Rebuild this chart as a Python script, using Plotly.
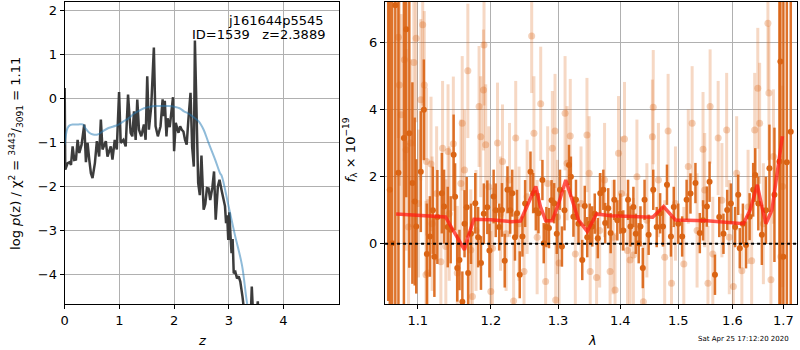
import plotly.graph_objects as go

# ---------------- Left panel: log p(z) ----------------
pz_z = [0.000, 0.010, 0.055, 0.090, 0.115, 0.145, 0.175, 0.206, 0.236, 0.267, 0.309, 0.358,
        0.388, 0.418, 0.450, 0.479, 0.509, 0.552, 0.588, 0.630, 0.661, 0.691, 0.752, 0.782,
        0.842, 0.873, 0.915, 0.952, 0.994, 1.024, 1.073, 1.115, 1.158, 1.206, 1.236, 1.267,
        1.297, 1.327, 1.358, 1.400, 1.448, 1.479, 1.509, 1.539, 1.582, 1.630, 1.661, 1.703,
        1.752, 1.790, 1.812, 1.830, 1.860, 1.880, 1.920, 1.980, 2.000, 2.030, 2.080, 2.110,
        2.140, 2.170, 2.200, 2.230, 2.260, 2.300, 2.330, 2.360, 2.380, 2.410, 2.440, 2.470,
        2.500, 2.540, 2.570, 2.600, 2.630, 2.660, 2.700, 2.730, 2.760, 2.800, 2.830, 2.870,
        2.900, 2.930, 2.950, 2.970, 2.990, 3.010, 3.030, 3.050, 3.070, 3.090, 3.120, 3.150,
        3.180, 3.210, 3.250, 3.290, 3.340, 3.400, 3.420, 3.450, 3.500, 3.530, 3.560, 3.620]
pz_log = [0.24, -1.62, -1.47, -1.45, -1.51, -1.09, -1.40, -1.39, -0.94, -1.24, -1.05, -0.59,
          -1.45, -1.01, -1.40, -1.70, -1.81, -1.47, -0.97, -1.32, -0.48, -1.16, -0.97, -1.32,
          -1.09, -1.39, -0.94, -1.16, 0.15, -1.01, -0.94, -1.09, 0.09, -0.78, -0.86, -0.29,
          -0.94, -0.02, -0.71, -0.86, -0.59, -0.94, 0.51, -0.71, -0.18, 1.16, -0.63, -0.86,
          -0.63, -0.02, -0.40, -0.05, -0.86, -0.45, -0.65, 0.03, -1.20, -0.55, -0.78, -0.63,
          -0.71, -0.75, -0.94, -1.05, -0.50, 0.13, -1.10, -1.55, 1.32, -0.70, -1.92, -2.20,
          -1.30, -2.53, -2.40, -2.04, -2.05, -2.31, -2.02, -1.66, -2.76, -2.00, -1.85, -2.10,
          -2.30, -2.45, -2.84, -2.66, -3.22, -2.59, -3.10, -3.52, -3.20, -3.98, -3.95, -4.10,
          -4.05, -4.17, -4.51, -4.95, -5.20, -5.00, -4.28, -5.10, -5.00, -4.62, -5.30, -5.80]

prior_z = [0.00, 0.02, 0.05, 0.09, 0.15, 0.25, 0.33, 0.38, 0.45, 0.52, 0.60, 0.69, 0.80, 0.93,
           1.00, 1.10, 1.18, 1.27, 1.36, 1.45, 1.54, 1.66, 1.78, 1.90, 2.02, 2.10, 2.18, 2.26,
           2.33, 2.45, 2.54, 2.63, 2.75, 2.84, 2.87, 2.99, 3.11, 3.24, 3.33, 3.40]
prior_log = [-1.05, -0.85, -0.68, -0.61, -0.59, -0.59, -0.59, -0.68, -0.78, -0.82, -0.82, -0.75,
             -0.67, -0.62, -0.58, -0.50, -0.44, -0.34, -0.28, -0.22, -0.19, -0.17, -0.17, -0.17,
             -0.19, -0.22, -0.29, -0.34, -0.40, -0.52, -0.71, -1.01, -1.39, -1.70, -1.76, -2.42,
             -3.10, -3.79, -4.63, -5.10]

left_xticks = [0, 1, 2, 3, 4]
left_yticks = [-4, -3, -2, -1, 0, 1, 2]

# ---------------- Right panel: spectrum ----------------
dark_wave = [1.062, 1.064, 1.067, 1.071, 1.075, 1.085, 1.082, 1.089, 1.093, 1.096, 1.098, 1.104,
             1.108, 1.112, 1.116, 1.120, 1.122, 1.126, 1.132, 1.135, 1.140, 1.144, 1.148, 1.150,
             1.153, 1.156, 1.160, 1.163, 1.166, 1.168, 1.172, 1.178, 1.182, 1.186, 1.190, 1.195,
             1.198, 1.204, 1.207, 1.212, 1.216, 1.220, 1.224, 1.228, 1.231, 1.235, 1.238, 1.242,
             1.246, 1.250, 1.258, 1.262, 1.266, 1.270, 1.276, 1.278, 1.282, 1.286, 1.290, 1.294,
             1.298, 1.303, 1.306, 1.310, 1.317, 1.320, 1.324, 1.328, 1.332, 1.338, 1.342, 1.346,
             1.350, 1.354, 1.358, 1.363, 1.367, 1.372, 1.375, 1.380, 1.384, 1.390, 1.395, 1.400,
             1.405, 1.413, 1.417, 1.422, 1.426, 1.431, 1.434, 1.438, 1.441, 1.448, 1.456, 1.462,
             1.468, 1.473, 1.480, 1.487, 1.492, 1.500, 1.507, 1.515, 1.522, 1.531, 1.539, 1.545,
             1.552, 1.557, 1.567, 1.575, 1.583, 1.590, 1.597, 1.605, 1.611, 1.614, 1.620, 1.626,
             1.633, 1.640, 1.644, 1.650, 1.657, 1.665, 1.672, 1.682, 1.692, 1.694, 1.700, 1.707,
             1.715]
dark_flux = [7.30, 1.61, 0.02, 7.10, 2.12, 6.39, 3.15, 3.29, 1.81, 1.26, 0.52, 2.15,
             3.99, -0.30, 0.22, 1.00, -0.38, 0.80, 1.51, 1.11, 0.50, 0.42, 2.65, 1.40,
             -0.72, -0.48, -1.72, 0.60, 1.09, -0.87, 0.30, 1.21, 0.20, -0.57, 0.90, 1.09,
             -0.20, 1.41, 1.00, 0.50, 1.01, -0.50, 1.61, 1.00, 1.51, 0.20, 0.91, -0.92,
             0.22, 1.20, 2.15, 1.51, 1.00, 0.91, 1.90, 0.02, 0.50, 0.47, 1.30, 1.21,
             0.30, 1.61, -0.08, 1.00, 2.35, 2.00, 0.81, 1.31, 0.60, -0.48, 1.13, 0.20,
             0.60, 0.52, 0.90, 0.17, 1.51, 1.61, 0.62, 1.06, 0.32, 1.31, 0.70, 0.90,
             0.40, 1.31, 0.52, 1.10, 0.30, 0.02, 0.52, -0.72, 1.31, 0.27, 1.61, 0.50,
             0.91, 0.52, 1.76, 0.22, 1.10, 0.60, 0.22, 1.31, 1.50, 1.81, 0.32, 0.70,
             1.11, 1.85, -0.92, 0.80, 0.30, 1.01, 1.20, 0.50, 1.46, -0.13, 0.60, -0.03,
             0.81, 1.61, 2.05, 1.20, 0.27, 1.00, 2.25, 1.46, 2.45, 5.43, -0.38, 2.43,
             3.34]
dark_err = [9.0, 9.0, 9.0, 9.0, 9.0, 5.0, 5.0, 4.0, 3.0, 2.5, 2.0, 1.8,
            1.5, 1.5, 1.2, 1.3, 1.2, 1.4, 1.2, 1.1, 1.2, 1.0, 1.2, 1.0,
            1.0, 0.9, 0.9, 1.0, 0.9, 1.0, 0.9, 0.9, 0.9, 0.8, 0.9, 0.8,
            0.8, 0.8, 0.8, 0.7, 0.8, 0.8, 0.7, 0.7, 0.7, 0.7, 0.7, 0.7,
            0.6, 0.7, 0.6, 0.6, 0.6, 0.6, 0.6, 0.6, 0.6, 0.6, 0.6, 0.6,
            0.6, 0.6, 0.6, 0.6, 0.6, 0.6, 0.6, 0.6, 0.6, 0.6, 0.6, 0.6,
            0.6, 0.6, 0.6, 0.6, 0.6, 0.6, 0.6, 0.6, 0.6, 0.6, 0.6, 0.6,
            0.6, 0.6, 0.6, 0.6, 0.6, 0.6, 0.6, 0.6, 0.6, 0.6, 0.6, 0.6,
            0.6, 0.6, 0.6, 0.6, 0.6, 0.6, 0.6, 0.6, 0.6, 0.6, 0.6, 0.6,
            0.6, 0.6, 0.6, 0.6, 0.6, 0.6, 0.6, 0.6, 0.6, 0.6, 0.6, 0.7,
            0.7, 0.8, 0.8, 0.8, 0.9, 1.0, 1.3, 2.0, 9.0, 9.0, 9.0, 9.0,
            9.0]

light_wave = [1.0749, 1.0762, 1.0784, 1.0826, 1.0848, 1.088, 1.0904, 1.0949, 1.0979, 1.101,
              1.1040, 1.1065, 1.1086, 1.1108, 1.1115, 1.113, 1.1175, 1.119, 1.125, 1.1307,
              1.1330, 1.1374, 1.1404, 1.142, 1.1476, 1.153, 1.158, 1.1598, 1.163, 1.1676,
              1.1717, 1.1740, 1.179, 1.1833, 1.1856, 1.1895, 1.1903, 1.1927, 1.197, 1.2000,
              1.2024, 1.2096, 1.214, 1.2168, 1.222, 1.227, 1.233, 1.2361, 1.241, 1.2484,
              1.253, 1.2598, 1.2632, 1.268, 1.2734, 1.2809, 1.284, 1.2912, 1.2953, 1.2963,
              1.299, 1.3015, 1.3109, 1.314, 1.319, 1.327, 1.336, 1.3455, 1.349, 1.3507,
              1.361, 1.366, 1.374, 1.3831, 1.388, 1.3913, 1.397, 1.402, 1.407, 1.412,
              1.4163, 1.422, 1.428, 1.439, 1.445, 1.4545, 1.456, 1.465, 1.476, 1.482,
              1.488, 1.495, 1.510, 1.518, 1.525, 1.534, 1.5449, 1.548, 1.554, 1.558,
              1.563, 1.573, 1.580, 1.589, 1.594, 1.6017, 1.608, 1.618, 1.630, 1.637,
              1.6429, 1.649, 1.6526, 1.660, 1.669, 1.671, 1.675, 1.680, 1.695, 1.6985]
light_flux = [6.15, 4.73, 3.84, 5.48, 2.80, 0.50, 3.00, 5.40, 6.12, 1.20,
              4.29, 6.52, 4.73, -0.92, 2.45, -0.87, 2.38, 0.60, 1.50, -0.53,
              2.85, -0.08, 2.75, 0.90, 2.98, -0.87, 1.80, 3.59, 2.20, 5.15,
              -0.18, -1.57, 0.40, 4.09, 3.19, 4.58, 5.92, 2.95, 1.70, -1.42,
              -0.13, 3.00, 0.90, 2.45, 0.30, 1.90, -1.70, 3.15, 0.60, -0.82,
              1.40, 6.19, 3.29, 0.20, 4.17, -1.12, 1.80, 2.85, 3.36, -1.67,
              0.80, -0.57, 3.89, 2.40, 3.21, -0.30, 1.20, 3.24, 2.10, -0.82,
              -1.00, 0.40, 1.90, -0.82, 0.20, -1.37, 2.70, 1.50, 3.12, -0.20,
              -0.48, -0.33, 2.00, -1.72, 0.70, 3.19, 4.07, 1.90, -0.40, 3.36,
              -1.17, 1.20, -0.60, 2.30, 3.59, 0.40, 2.82, 1.60, -1.17, 4.09,
              -0.30, 3.15, 1.30, 3.39, 0.20, -1.27, 2.10, -0.80, 1.10, -0.50,
              3.39, 4.63, 3.59, 0.60, 6.57, 4.49, -1.07, 2.60, -0.38, 1.71]
light_err = [3.0, 3.0, 3.0, 3.0, 3.0, 2.5, 2.5, 2.5, 2.5, 2.2,
             2.4, 2.4, 2.2, 2.2, 2.2, 2.2, 2.0, 2.0, 2.0, 2.0,
             2.0, 2.0, 2.0, 2.0, 2.0, 2.0, 1.9, 2.0, 1.8, 2.0,
             1.8, 1.8, 1.8, 1.8, 1.8, 1.8, 1.8, 1.8, 1.8, 1.8,
             1.8, 1.8, 1.7, 1.7, 1.7, 1.7, 1.7, 1.7, 1.7, 1.7,
             1.7, 1.7, 1.7, 1.7, 1.7, 1.7, 1.7, 1.7, 1.7, 1.7,
             1.7, 1.7, 1.7, 1.7, 1.7, 1.7, 1.7, 1.7, 1.7, 1.7,
             1.7, 1.7, 1.7, 1.7, 1.7, 1.7, 1.7, 1.7, 1.7, 1.7,
             1.7, 1.7, 1.7, 1.7, 1.7, 1.7, 1.7, 1.7, 1.7, 1.7,
             1.7, 1.7, 1.7, 1.7, 1.7, 1.7, 1.7, 1.7, 1.7, 1.7,
             1.7, 1.7, 1.7, 1.7, 1.7, 1.7, 1.7, 1.7, 1.7, 1.7,
             1.7, 1.8, 1.8, 1.8, 2.0, 2.0, 2.0, 2.0, 3.0, 3.0]

model_wave = [1.072, 1.117, 1.137, 1.147, 1.156, 1.163, 1.168, 1.176, 1.200, 1.229, 1.243,
              1.253, 1.266, 1.273, 1.281, 1.291, 1.301, 1.312, 1.322, 1.332, 1.346, 1.354,
              1.361, 1.384, 1.434, 1.455, 1.474, 1.486, 1.495, 1.552, 1.621, 1.634, 1.648,
              1.657, 1.665, 1.677, 1.686, 1.696, 1.698]
model_flux = [0.89, 0.83, 0.80, 0.42, 0.07, -0.18, 0.22, 0.73, 0.72, 0.66, 0.68,
              1.11, 1.71, 1.11, 0.69, 0.69, 1.21, 1.90, 1.31, 0.71, 0.37, 0.66,
              0.89, 0.84, 0.79, 0.79, 1.11, 0.86, 0.71, 0.69, 0.60, 1.01, 1.76,
              1.11, 0.60, 1.01, 1.90, 3.00, 3.20]

right_xticks = [1.1, 1.2, 1.3, 1.4, 1.5, 1.6, 1.7]
right_yticks = [0, 2, 4, 6]

# ---------------- Figure ----------------
FONT = "DejaVu Sans"
ORANGE = "rgb(218,100,20)"
ORANGE_LIGHT = "rgba(218,100,20,0.25)"

fig = go.Figure()

fig.add_trace(go.Scatter(x=pz_z, y=pz_log, mode="lines",
                         line=dict(color="rgba(50,50,50,0.95)", width=2.5),
                         xaxis="x", yaxis="y", hoverinfo="skip"))
fig.add_trace(go.Scatter(x=prior_z, y=prior_log, mode="lines", line_shape="spline",
                         line=dict(color="rgba(31,119,180,0.5)", width=2),
                         xaxis="x", yaxis="y", hoverinfo="skip"))

fig.add_trace(go.Scatter(x=light_wave, y=light_flux, mode="markers",
                         marker=dict(color="rgba(218,100,20,0.3)", size=7),
                         error_y=dict(type="data", array=light_err, color=ORANGE_LIGHT,
                                      thickness=3, width=0),
                         xaxis="x2", yaxis="y2", hoverinfo="skip"))
fig.add_trace(go.Scatter(x=dark_wave, y=dark_flux, mode="markers",
                         marker=dict(color=ORANGE, size=6),
                         error_y=dict(type="data", array=dark_err, color="rgba(218,100,20,0.9)",
                                      thickness=2.5, width=0),
                         xaxis="x2", yaxis="y2", hoverinfo="skip"))
fig.add_trace(go.Scatter(x=model_wave, y=model_flux, mode="lines",
                         line=dict(color="rgba(255,30,20,0.75)", width=3.5),
                         xaxis="x2", yaxis="y2", hoverinfo="skip"))

axis_common = dict(showgrid=True, gridcolor="#b0b0b0", gridwidth=1, showline=True,
                   linecolor="black", linewidth=1.2, mirror=True, ticks="outside",
                   ticklen=4, tickcolor="black", zeroline=False,
                   tickfont=dict(family=FONT, size=13, color="black"))

ydom = [1 - 304 / 350, 1 - 2 / 350]

fig.update_layout(
    width=800, height=350, margin=dict(l=0, r=0, t=0, b=0),
    plot_bgcolor="white", paper_bgcolor="white", showlegend=False,
    xaxis=dict(domain=[61 / 800, 337 / 800], range=[0, 5.02], anchor="y",
               tickvals=left_xticks, ticktext=[str(v) for v in left_xticks], **axis_common),
    yaxis=dict(domain=ydom, range=[-4.68, 2.2], anchor="x",
               tickvals=left_yticks,
               ticktext=[str(v).replace("-", "\u2212") for v in left_yticks], **axis_common),
    xaxis2=dict(domain=[383 / 800, 797 / 800], type="log", range=[0.0245, 0.2375],
                anchor="y2", tickvals=right_xticks,
                ticktext=[str(v) for v in right_xticks], **axis_common),
    yaxis2=dict(domain=ydom, range=[-1.79, 7.2], anchor="x2",
                tickvals=right_yticks, ticktext=[str(v) for v in right_yticks], **axis_common),
)

fig.add_shape(type="line", xref="x2 domain", x0=0, x1=1, yref="y2", y0=0, y1=0,
              line=dict(color="black", width=2, dash="dot"))

ann_font = dict(family=FONT, size=13, color="black")
fig.add_annotation(text="j161644p5545", xref="paper", yref="paper", x=324 / 800,
                   y=1 - 20 / 350, xanchor="right", yanchor="middle", showarrow=False,
                   font=ann_font)
fig.add_annotation(text="ID=1539\u00a0\u00a0\u00a0z=2.3889", xref="paper", yref="paper",
                   x=325 / 800, y=1 - 34 / 350, xanchor="right", yanchor="middle",
                   showarrow=False, font=ann_font)
fig.add_annotation(text="log <i>p</i>(z) / χ<sup>2</sup> = <sup>3443</sup>/<sub>3091</sub> = 1.11",
                   xref="paper", yref="paper", x=12 / 800, y=1 - 153 / 350,
                   textangle=-90, showarrow=False, xanchor="center", yanchor="middle",
                   font=ann_font)
fig.add_annotation(text="<i>f</i><sub>λ</sub> × 10<sup>−19</sup>",
                   xref="paper", yref="paper", x=348 / 800, y=1 - 150 / 350,
                   textangle=-90, showarrow=False, xanchor="center", yanchor="middle",
                   font=ann_font)
fig.add_annotation(text="<i>z</i>", xref="paper", yref="paper", x=199 / 800,
                   y=1 - 340 / 350, showarrow=False, xanchor="center", yanchor="middle",
                   font=ann_font)
fig.add_annotation(text="<i>λ</i>", xref="paper", yref="paper", x=591 / 800,
                   y=1 - 340 / 350, showarrow=False, xanchor="center", yanchor="middle",
                   font=ann_font)
fig.add_annotation(text="Sat Apr 25 17:12:20 2020", xref="paper", yref="paper",
                   x=743 / 800, y=1 - 339 / 350, showarrow=False, xanchor="center",
                   yanchor="middle", font=dict(family=FONT, size=7, color="black"))

fig.write_html("out.html", config={"displayModeBar": False},
               post_script="document.body.style.margin='0px';document.body.style.overflow='hidden';")
